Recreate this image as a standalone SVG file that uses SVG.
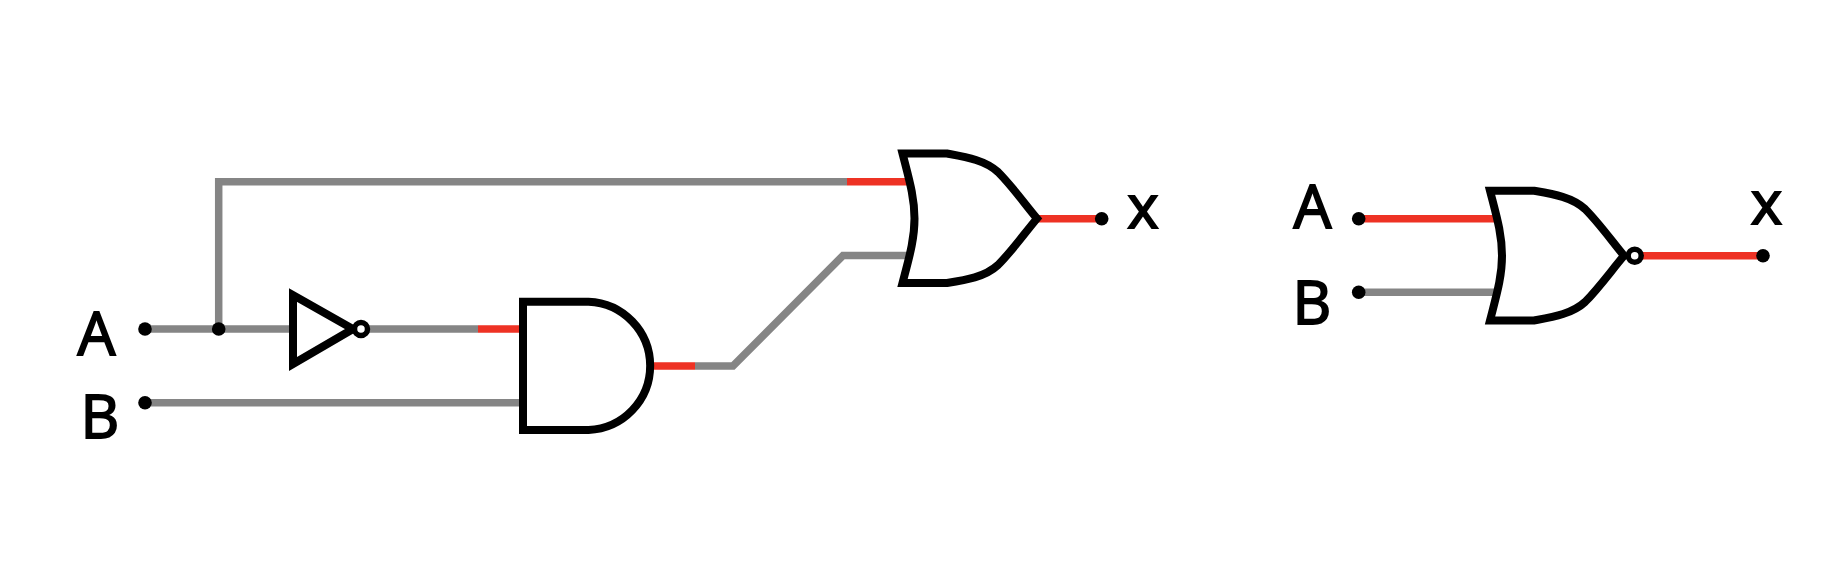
<svg xmlns="http://www.w3.org/2000/svg" width="1822" height="576" viewBox="0 0 1822 576">
<style>
.g{fill:none;stroke:#858585;stroke-width:7.500;stroke-linejoin:miter}
.r{fill:none;stroke:#ee3224;stroke-width:7.500}
.s{fill:#fff;stroke:#000;stroke-width:8;stroke-linejoin:miter}
.n{fill:none;stroke:#000;stroke-width:8;stroke-linejoin:miter}
.b{fill:#fff;stroke:#000;stroke-width:5.500}
.d{fill:#000}
.t{font-family:"Open Sans",sans-serif;font-weight:400;font-size:60px;fill:#000;stroke:#000;stroke-width:1.800;text-anchor:middle}
</style>
<rect width="1822" height="576" fill="#fff"/>
<g id="connectors">
<path class="g" d="M145 329H293M361 329H478"/>
<path class="g" d="M218.700 329V181.700H847"/>
<path class="g" d="M145 402.700H522"/>
<path class="g" d="M695 366H733L843 255.500H912"/>
<path class="r" d="M478 329H522M652 366H695M847 181.700H912M1037 218.700H1101.700"/>
<path class="r" d="M1358.700 218.700H1498"/>
<path class="g" d="M1358.700 292.300H1498"/>
<path class="r" d="M1640 255.700H1763"/>
</g>
<g id="dot-a"><circle class="d" cx="145" cy="329" r="6.800"/></g>
<g id="dot-b"><circle class="d" cx="145" cy="402.700" r="6.800"/></g>
<g id="junction"><circle class="d" cx="218.700" cy="329" r="6.800"/></g>
<g id="not-gate">
<path class="s" d="M293 295V364L353 329Z"/>
<circle class="b" cx="361" cy="329" r="6.500"/>
</g>
<g id="and-gate"><path class="s" d="M523 301.700H588.500A64.200 64.200 0 0 1 588.500 430H523Z"/></g>
<g id="or-gate">
<path class="n" d="M902.500 153.500H947C966 157 985 160 998 172C1012 186 1024 203 1037 218.500C1024 234 1012 251 998 265C985 277 966 280 947 283H902.500C909 258 914.500 240 914.500 218.500C914.500 197 909 179 902.500 153.500Z"/>
</g>
<g id="nor-gate">
<path class="n" d="M1490 190.700H1534C1553 194 1572 197 1585 209C1599 223 1611 240 1624 255.700C1611 271 1599 288 1585 302C1572 314 1553 317 1534 320.500H1490C1496.500 295 1502 277 1502 255.700C1502 234 1496.500 216 1490 190.700Z"/>
<circle class="b" cx="1634.700" cy="255.700" r="6.500"/>
</g>
<g id="out-x1"><circle class="d" cx="1101.700" cy="218.700" r="6.800"/></g>
<g id="in-a2"><circle class="d" cx="1358.700" cy="218.700" r="6.800"/></g>
<g id="in-b2"><circle class="d" cx="1358.700" cy="292.300" r="6.800"/></g>
<g id="out-x2"><circle class="d" cx="1763" cy="255.700" r="6.800"/></g>
<g id="labels">
<text class="t" x="96.500" y="355">A</text>
<text class="t" x="100" y="438">B</text>
<text class="t" x="1143" y="228">x</text>
<text class="t" x="1312.500" y="228">A</text>
<text class="t" x="1312" y="324">B</text>
<text class="t" x="1766.500" y="224">x</text>
</g>
</svg>
